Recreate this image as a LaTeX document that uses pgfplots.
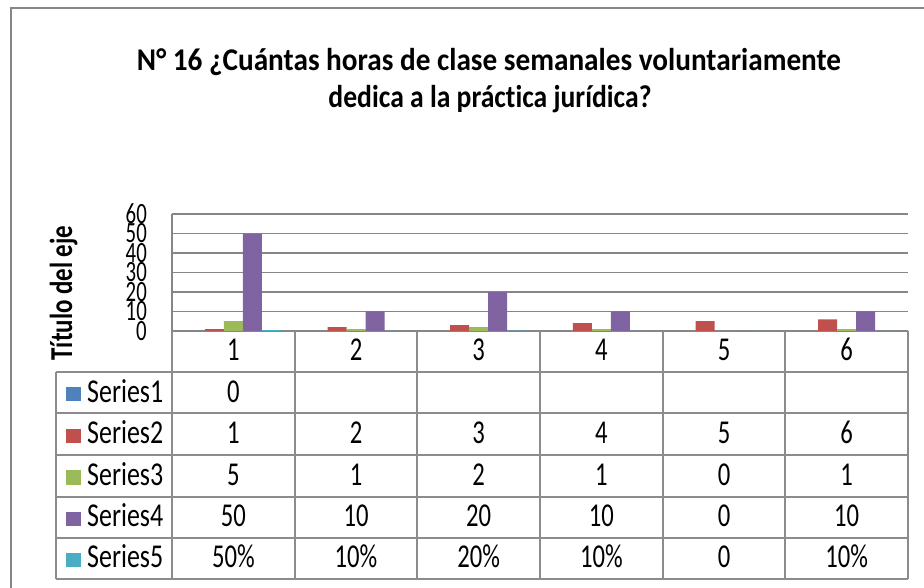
\documentclass[border=0pt]{standalone}
\usepackage{pgfplots}
\pgfplotsset{compat=1.18}
\usepackage{fontspec}
\setmainfont{Carlito}[Ligatures=NoCommon]
\usepackage{graphicx}
\definecolor{s1}{HTML}{4F81BD}
\definecolor{s2}{HTML}{C0504D}
\definecolor{s3}{HTML}{9BBB59}
\definecolor{s4}{HTML}{8064A2}
\definecolor{s5}{HTML}{4BACC6}
\definecolor{gridc}{RGB}{134,134,134}
\definecolor{tabc}{RGB}{140,140,140}
\newcommand\sx[1]{\scalebox{0.85}[1.15]{#1}}
\newcommand\tx[1]{\scalebox{0.85}[1.2]{#1}}
\newcommand\tabfont{\fontsize{29}{29}\selectfont}
\begin{document}
\begin{tikzpicture}[x=1pt,y=1pt]
\path[use as bounding box] (0,0) rectangle (924,587);
% outer frame
\draw[gridc, line width=2.5pt] (11,-5) -- (11,579) -- (935,579);
% title
\node[anchor=base, inner sep=0] at (489,516) {\resizebox{704pt}{1.02\height}{\fontsize{31}{31}\selectfont\bfseries N° 16 ¿Cuántas horas de clase semanales voluntariamente}};
\node[anchor=base, inner sep=0] at (490,479) {\resizebox{323pt}{1.02\height}{\fontsize{31}{31}\selectfont\bfseries dedica a la práctica jurídica?}};
% y label
\node[rotate=90, anchor=base, inner sep=0] at (72,294) {\scalebox{0.86}[1.1]{\fontsize{29}{29}\selectfont\bfseries Título del eje}};
\begin{axis}[
  at={(172pt,256pt)}, anchor=south west,
  width=736pt, height=117pt, scale only axis,
  xmin=-0.5, xmax=5.5, ymin=0, ymax=60, enlargelimits=false,
  ytick={0,10,...,60},
  yticklabels={\tx{0},\tx{10},\tx{20},\tx{30},\tx{40},\tx{50},\tx{60}},
  yticklabel style={anchor=east, inner sep=0pt, xshift=-25pt, font=\fontsize{24.5}{24.5}\selectfont},
  xtick=\empty,
  ymajorgrids, grid style={gridc, line width=1.6pt},
  axis x line=bottom, axis y line=left,
  axis line style={-, gridc, line width=1.6pt},
  major tick length=0pt,
  ybar=0pt, bar width=19pt,
  clip=false,
]
\addplot[fill=s1, draw=none] coordinates {(0,0)};
\addplot[fill=s2, draw=none] coordinates {(0,1) (1,2) (2,3) (3,4) (4,5) (5,6)};
\addplot[fill=s3, draw=none] coordinates {(0,5) (1,1) (2,2) (3,1) (4,0) (5,1)};
\addplot[fill=s4, draw=none] coordinates {(0,50) (1,10) (2,20) (3,10) (4,0) (5,10)};
\addplot[fill=s5, draw=none] coordinates {(0,0.5) (1,0.1) (2,0.2) (3,0.1) (4,0) (5,0.1)};
\end{axis}
% data table grid
\foreach \yy in {215,173.5,132,90.5,49,8} {\draw[tabc, line width=2pt] (56,\yy) -- (908,\yy);}
\draw[tabc, line width=2pt] (56,215) -- (56,8);
\foreach \xx in {172,294.67,417.33,540,662.67,785.33,908} {\draw[tabc, line width=2pt] (\xx,256) -- (\xx,8);}
% header row
\foreach \v [count=\i from 0] in {1,2,3,4,5,6}
  \node[anchor=base, inner sep=0] at (233.33+122.67*\i,226.3) {\sx{\tabfont \v}};
% legend keys and labels
\foreach \c/\n/\yb [count=\k from 0] in {s1/Series1/185, s2/Series2/143.5, s3/Series3/102, s4/Series4/60.5, s5/Series5/19.3} {
  \fill[\c] (66,\yb+0.5) rectangle (81,\yb+15);
  \node[anchor=base west, inner sep=0] at (87,\yb) {\resizebox{76pt}{1.15\height}{\tabfont \n}};
}
% table values
\node[anchor=base, inner sep=0] at (233.33,185) {\sx{\tabfont 0}};
\foreach \v [count=\i from 0] in {1,2,3,4,5,6}
  \node[anchor=base, inner sep=0] at (233.33+122.67*\i,143.5) {\sx{\tabfont \v}};
\foreach \v [count=\i from 0] in {5,1,2,1,0,1}
  \node[anchor=base, inner sep=0] at (233.33+122.67*\i,102) {\sx{\tabfont \v}};
\foreach \v [count=\i from 0] in {50,10,20,10,0,10}
  \node[anchor=base, inner sep=0] at (233.33+122.67*\i,60.5) {\sx{\tabfont \v}};
\foreach \v [count=\i from 0] in {50\%,10\%,20\%,10\%,0,10\%}
  \node[anchor=base, inner sep=0] at (233.33+122.67*\i,19.3) {\sx{\tabfont \v}};
\end{tikzpicture}
\end{document}
